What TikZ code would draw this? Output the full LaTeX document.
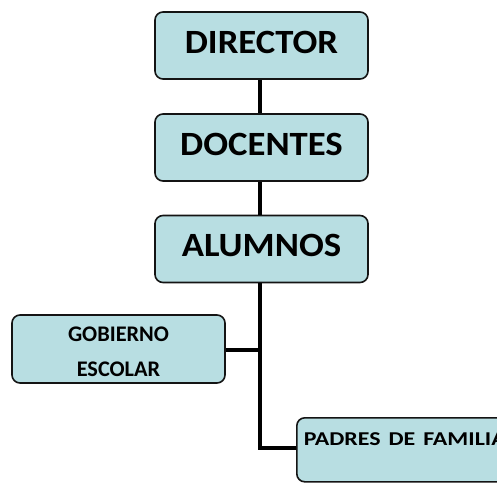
\documentclass[tikz,border=0pt]{standalone}
\usepackage{fontspec}
\setmainfont{Carlito}
\definecolor{boxfill}{RGB}{184,222,226}
\definecolor{boxline}{RGB}{20,20,20}
\tikzset{
  orgbox/.style={draw=boxline, line width=1.6pt, fill=boxfill, rounded corners=8pt,
    minimum width=213pt, inner sep=0pt},
  bigbox/.style={orgbox, minimum height=67pt, text height=41.3pt, text depth=25.7pt,
    font=\fontsize{34}{40}\selectfont\bfseries},
  smallbox/.style={orgbox, minimum height=68pt, align=center, font=\fontsize{22.3}{35}\selectfont\bfseries},
  link/.style={line width=4pt, draw=black}
}
\newcommand{\widen}[2]{\scalebox{#1}[1]{#2}}
\begin{document}
\begin{tikzpicture}[x=1pt,y=-1pt]
\useasboundingbox (0,0) rectangle (497,483);
\clip (0,0) rectangle (497,483);
\coordinate (spine) at (260,0);
\node[bigbox] (director) at (261.5,45.5) {\widen{1.08}{DIRECTOR}};
\node[bigbox] (docentes) at (261.5,147.5) {\widen{1.08}{DOCENTES}};
\node[bigbox] (alumnos) at (261.5,249) {\widen{1.08}{ALUMNOS}};
\node[smallbox] (gobierno) at (118.5,349) {\rule{0pt}{21pt}GOBIERNO\\ESCOLAR};
\node[orgbox, minimum height=64pt, anchor=north west, text width=205pt, align=left,
  text height=27.5pt, text depth=36.5pt, inner xsep=7pt,
  font=\fontsize{19.6}{24}\selectfont\bfseries] (padres) at (296,417) {\widen{1.22}{PADRES DE FAMILIA}};
\coordinate (j1) at (260,350);
\coordinate (j2) at (260,448);
\draw[link] (director.south -| spine) -- (docentes.north -| spine);
\draw[link] (docentes.south -| spine) -- (alumnos.north -| spine);
\draw[link] (gobierno.east |- j1) -- (j1);
\draw[link] (alumnos.south -| spine) -- (j2) -- (padres.west |- j2);
\end{tikzpicture}
\end{document}
